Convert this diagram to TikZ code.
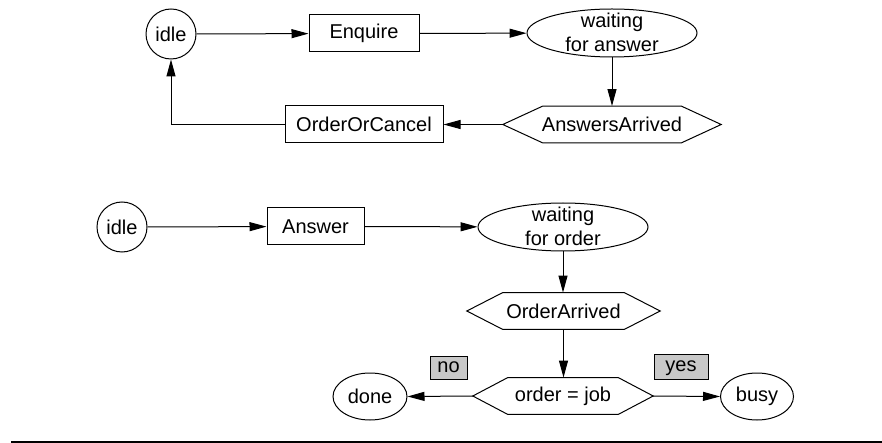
\documentclass[tikz,border=0pt]{standalone}
\usepackage{fontspec}
\setmainfont{Liberation Sans}
\usetikzlibrary{arrows.meta,shapes.geometric,calc}
\definecolor{lblgray}{RGB}{200,200,200}
\newcommand\drawhex[2]{\draw[hexline] (#1.west) -- ([xshift=#2]#1.north west) -- ([xshift=-#2]#1.north east) -- (#1.east) -- ([xshift=-#2]#1.south east) -- ([xshift=#2]#1.south west) -- cycle;}
\begin{document}
\begin{tikzpicture}[x=1pt,y=-1pt,
  every node/.style={font=\fontsize{20}{23.5}\selectfont, inner sep=0pt},
  state/.style={draw, circle, line width=1pt, minimum size=50pt},
  action/.style={draw, rectangle, line width=1pt},
  wait/.style={draw, ellipse, line width=1pt, minimum width=170pt, minimum height=48pt},
  endst/.style={draw, ellipse, line width=1pt, minimum width=74pt, minimum height=47pt},
  hexbox/.style={rectangle, minimum height=36.5pt},
  hexline/.style={line width=1pt},
  lbl/.style={draw, rectangle, fill=lblgray, line width=1pt, text height=10.4pt, text depth=0pt},
  conn/.style={line width=1pt, -{Triangle[length=17pt,width=9pt]}},
  txt/.style={align=center}
]
\useasboundingbox (0,0) rectangle (882,443);
% top diagram
\node[state] (idleA) at (171,34) {idle};
\node[action, minimum width=110pt, minimum height=37pt] (enq) at (364,33.5) {Enquire};
\node[wait] (wa) at (612,33) {};
\node[txt] (waT) at (612,32.5) {waiting\\for answer};
\node[hexbox, minimum width=218pt] (aa) at (612,124.5) {AnswersArrived};
\drawhex{aa}{40pt}
\node[action, minimum width=158pt, minimum height=37pt] (ooc) at (364,124.5) {OrderOrCancel};
\draw[conn] (idleA) -- (enq);
\draw[conn] (enq) -- (wa);
\draw[conn] (wa.south) -- (aa.north);
\draw[conn] (aa.west) -- (ooc.east);
\draw[conn] (ooc.west) -| (idleA.south);
% bottom diagram
\node[state] (idleB) at (122,227) {idle};
\node[action, minimum width=97pt, minimum height=37pt] (ans) at (315.5,226.5) {Answer};
\node[wait] (wo) at (563,227) {};
\node[txt] (woT) at (563,226.5) {waiting\\for order};
\node[hexbox, minimum width=193pt] (oa) at (563.5,311) {OrderArrived};
\drawhex{oa}{36pt}
\node[hexbox, minimum width=180pt] (oj) at (563,396) {order = job};
\drawhex{oj}{35pt}
\node[endst] (done) at (370,396.5) {done};
\node[endst, minimum width=73pt] (busy) at (757,396.5) {busy};
\node[lbl, minimum width=37pt, minimum height=23pt] (no) at (448.5,367.5) {no};
\node[lbl, minimum width=54pt, minimum height=25pt] (yes) at (681,366.5) {yes};
\draw[conn] (idleB) -- (ans);
\draw[conn] (ans) -- (wo);
\draw[conn] (wo.south) -- (wo.south |- oa.north);
\draw[conn] (oa.south) -- (oa.south |- oj.north);
\draw[conn] (oj.west) -- (done.east);
\draw[conn] (oj.east) -- (busy.west);
% bottom rule
\coordinate (ruleL) at (11,441.8);
\coordinate (ruleR) at (882,441.8);
\draw[line width=1.6pt] (ruleL) -- (ruleR);
\end{tikzpicture}
\end{document}
